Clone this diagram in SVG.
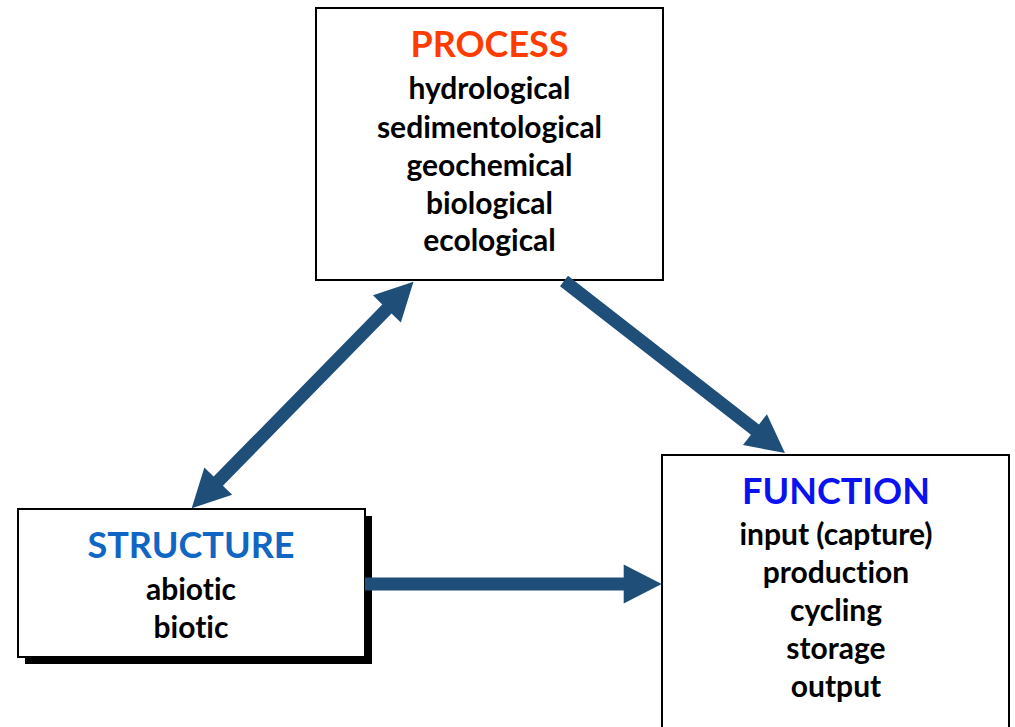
<svg xmlns="http://www.w3.org/2000/svg" width="1015" height="727" viewBox="0 0 1015 727">
  <style>
    .box { fill: #ffffff; stroke: #000000; stroke-width: 2; }
    .shadow { fill: #000000; }
    text { font-family: Lato, "Open Sans", sans-serif; font-weight: bold; text-anchor: middle; font-variant-ligatures: none; }
    .head { font-size: 36px; }
    .item { font-size: 30px; fill: #000000; }
    .arrow { fill: #1f4e79; }
  </style>

  <!-- Process box -->
  <g id="process">
    <rect class="box" x="316" y="8" width="347" height="272"/>
    <text class="head" x="489.5" y="57" fill="#ff3c00">PROCESS</text>
    <text class="item" x="489.5" y="99.3">hydrological</text>
    <text class="item" x="489.5" y="137.5">sedimentological</text>
    <text class="item" x="489.5" y="175.8">geochemical</text>
    <text class="item" x="489.5" y="213.5">biological</text>
    <text class="item" x="489.5" y="251">ecological</text>
  </g>

  <!-- Structure box with drop shadow -->
  <g id="structure">
    <rect class="shadow" x="25" y="516" width="347" height="148"/>
    <rect class="box" x="18" y="509" width="347" height="148"/>
    <text class="head" x="191" y="558.3" fill="#1166c4">STRUCTURE</text>
    <text class="item" x="191" y="600">abiotic</text>
    <text class="item" x="191" y="637.7">biotic</text>
  </g>

  <!-- Function box -->
  <g id="function">
    <rect class="box" x="662" y="455" width="347" height="280"/>
    <text class="head" x="836" y="504.3" fill="#0a12f0">FUNCTION</text>
    <text class="item" x="836" y="545">input (capture)</text>
    <text class="item" x="836" y="583.3">production</text>
    <text class="item" x="836" y="621">cycling</text>
    <text class="item" x="836" y="658.5">storage</text>
    <text class="item" x="836" y="696.7">output</text>
  </g>

  <!-- Block arrows between the boxes -->
  <g id="connectors">
    <!-- Structure <-> Process -->
    <path class="arrow" transform="translate(191.7,508.3) rotate(-45.6)"
          d="M0,0 L38,-19.5 L38,-6.5 L279,-6.5 L279,-19.5 L317,0 L279,19.5 L279,6.5 L38,6.5 L38,19.5 Z"/>
    <!-- Process -> Function -->
    <path class="arrow" transform="translate(564,281) rotate(37.9)"
          d="M0,-6.5 L242,-6.5 L242,-19.5 L280,0 L242,19.5 L242,6.5 L0,6.5 Z"/>
    <!-- Structure -> Function -->
    <path class="arrow" transform="translate(365,584)"
          d="M0,-6.5 L258.7,-6.5 L258.7,-19.5 L296.7,0 L258.7,19.5 L258.7,6.5 L0,6.5 Z"/>
  </g>
</svg>
